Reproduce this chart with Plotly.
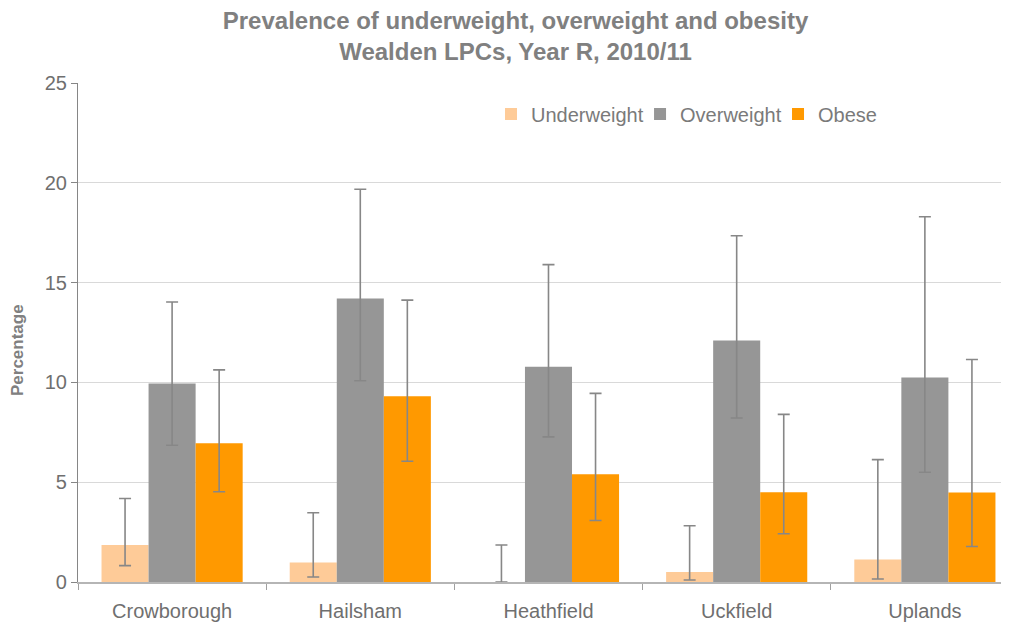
import plotly.graph_objects as go

# values (percent)
areas = ["Crowborough", "Hailsham", "Heathfield", "Uckfield", "Uplands"]

underweight = [1.85, 0.98, 0.0, 0.5, 1.13]
underweight_lo = [0.82, 0.25, 0.0, 0.1, 0.15]
underweight_hi = [4.18, 3.47, 1.85, 2.82, 6.13]

overweight = [9.95, 14.2, 10.78, 12.1, 10.25]
overweight_lo = [6.85, 10.08, 7.27, 8.22, 5.5]
overweight_hi = [14.03, 19.68, 15.9, 17.35, 18.3]

obese = [6.95, 9.3, 5.4, 4.5, 4.48]
obese_lo = [4.52, 6.05, 3.08, 2.42, 1.78]
obese_hi = [10.63, 14.12, 9.45, 8.4, 11.15]

series = [
    ("Underweight", underweight, underweight_lo, underweight_hi, "#FECB98", "legend"),
    ("Overweight", overweight, overweight_lo, overweight_hi, "#969696", "legend2"),
    ("Obese", obese, obese_lo, obese_hi, "#FF9900", "legend3"),
]

fig = go.Figure()
for name, vals, lo, hi, col, leg in series:
    fig.add_trace(go.Bar(
        x=areas, y=vals, name=name, marker_color=col, marker_line_width=0,
        legend=leg,
        error_y=dict(type="data", symmetric=False,
                     array=[h - v for h, v in zip(hi, vals)],
                     arrayminus=[v - l for v, l in zip(vals, lo)],
                     color="#878787", thickness=1.6, width=6),
    ))

# page body has an 8px margin, so the figure is a bit smaller than the window
W, H = 1001, 615
font_col = "#7a7a7a"


def leg(x):
    # one legend box per series so the spacing can follow the reference
    return dict(orientation="h", x=x, xanchor="left", y=0.938, yanchor="middle",
                font=dict(size=20, color=font_col), bgcolor="rgba(0,0,0,0)",
                itemwidth=30)


fig.update_layout(
    width=W, height=H,
    barmode="group", bargap=0.25, bargroupgap=0,
    plot_bgcolor="white", paper_bgcolor="white",
    font=dict(family="Liberation Sans, Arial, sans-serif", color=font_col, size=20),
    margin=dict(l=70, r=0, t=75, b=41),
    title=dict(text="<b>Prevalence of underweight, overweight and obesity<br>Wealden LPCs, Year R, 2010/11</b>",
               x=0.507, xanchor="center", xref="container",
               y=1 - 21 / H, yanchor="middle", yref="container",
               font=dict(size=24, color="#808080")),
    legend=leg(0.4436), legend2=leg(0.6037), legend3=leg(0.7519),
    showlegend=True,
    annotations=[dict(text="<b>Percentage</b>", textangle=-90, xref="paper", yref="paper",
                      x=0, xshift=-72, y=0.5, yshift=-18, showarrow=False,
                      font=dict(size=17, color="#808080"))],
)
fig.update_xaxes(
    range=[-0.5, 4.447], showline=True, linecolor="#b5b5b5", linewidth=1.5,
    ticks="outside", tickson="boundaries", ticklen=6, tickcolor="#a0a0a0",
    showgrid=False, tickfont=dict(size=20, color="#6f6f6f"), ticklabelstandoff=10,
)
fig.update_yaxes(
    range=[0, 25], dtick=5, showline=True, linecolor="#868686", linewidth=1.2,
    ticks="outside", ticklen=6, tickcolor="#868686",
    showgrid=True, gridcolor="#d9d9d9", gridwidth=1.2, zeroline=False,
    tickfont=dict(size=20, color="#6f6f6f"),
)

fig.write_html("out.html")
